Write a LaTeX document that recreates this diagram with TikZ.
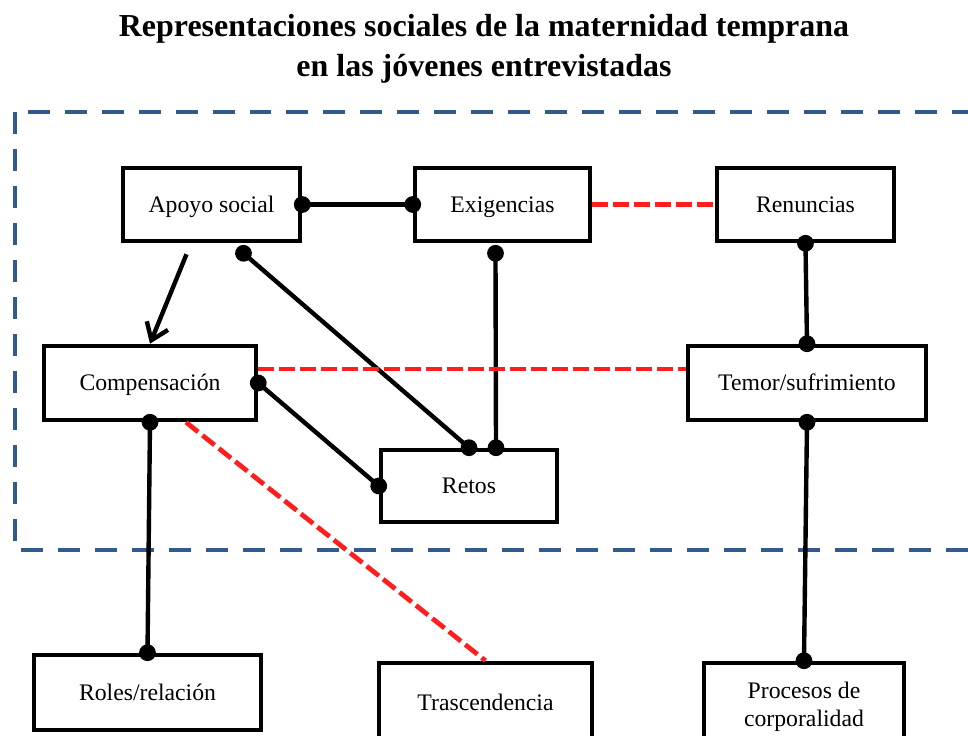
\documentclass[tikz,border=0pt]{standalone}
\usepackage{fontspec}
\setmainfont{Liberation Serif}
\usepackage{tikz}
\usetikzlibrary{calc}
\usetikzlibrary{positioning}
\usetikzlibrary{arrows.meta}

\definecolor{marcoazul}{RGB}{50,90,140}
\definecolor{rojo}{RGB}{255,30,30}

\begin{document}
\begin{tikzpicture}[x=0.02cm,y=-0.02cm,
    cajabase/.style={draw,line width=2.6pt,inner sep=0pt,align=center,
      font=\fontsize{13.5}{16}\selectfont,minimum height=1.46cm},
    caja/.style={cajabase,text height=2.3ex,text depth=0.35ex},
    enlace/.style={line width=2.5pt,{Circle[length=9.5pt]}-{Circle[length=9.5pt]},
      shorten <=-4.75pt,shorten >=-4.75pt},
    flecha/.style={line width=2.5pt,-{Straight Barb[length=9pt,width=13pt,line width=2.5pt]}},
    rojodash/.style={line width=2.7pt,rojo,dash pattern=on 0.31cm off 0.11cm},
    marco/.style={line width=2.8pt,marcoazul,dash pattern=on 0.44cm off 0.3cm}]
      \useasboundingbox (0,0) rectangle (968,736);

      \node[font=\fontsize{18.2}{22.5}\selectfont\bfseries,align=center] (titulo) at (484,49)
        {Representaciones sociales de la maternidad temprana\\en las jóvenes entrevistadas};

      \draw[marco] (15,112) rectangle (1000,550);

      \node[caja,minimum width=3.54cm] (apoyo) at (211.5,204.5) {Apoyo social};
      \node[caja,minimum width=3.5cm] (exig) at (502.5,204.5) {Exigencias};
      \node[caja,minimum width=3.54cm] (renun) at (805.5,204.5) {Renuncias};
      \node[caja,minimum width=4.24cm,minimum height=1.48cm] (comp) at (150,383) {Compensación};
      \node[caja,minimum width=4.76cm,minimum height=1.48cm] (temor) at (807,383) {Temor/sufrimiento};
      \node[caja,minimum width=3.52cm,minimum height=1.44cm] (retos) at (469,486) {Retos};
      \node[caja,minimum width=4.54cm,minimum height=1.5cm] (roles) at (147.5,692.5) {Roles/relación};
      \node[caja,minimum width=4.26cm,minimum height=1.6cm] (trasc) at (485.5,703) {Trascendencia};
      \node[cajabase,minimum width=4cm,minimum height=1.76cm] (proc) at (804,707) {Procesos de\\corporalidad};

      \draw[enlace] (apoyo.east) -- (exig.west);
      \draw[rojodash] (exig.east) -- (renun.west);
      \draw[flecha] ($(apoyo.south)+(-25,11)$) -- (comp.north);
      \draw[enlace] ($(apoyo.south)+(32,10)$) -- (retos.north);
      \draw[enlace] ($(exig.south)+(-7,10)$) -- ($(retos.north)+(27,0)$);
      \draw[enlace] (renun.south) -- (temor.north);
      \draw[enlace] (comp.east) -- (retos.west);
      \draw[rojodash] ($(comp.east)+(0,-14)$) -- ($(temor.west)+(0,-14)$);
      \draw[enlace] (comp.south) -- (roles.north);
      \draw[rojodash] ($(comp.south)+(36,0)$) -- (trasc.north);
      \draw[enlace] (temor.south) -- (proc.north);
\end{tikzpicture}
\end{document}
